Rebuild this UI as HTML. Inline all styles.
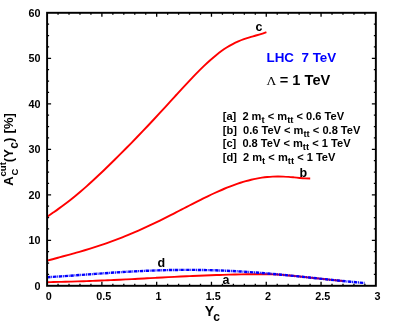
<!DOCTYPE html>
<html><head><meta charset="utf-8">
<style>
html,body{margin:0;padding:0;background:#fff;}
body{width:396px;height:332px;overflow:hidden;}
svg{display:block;will-change:transform;}
text{font-family:"Liberation Sans",sans-serif;font-weight:bold;fill:#000;}
.tk text{font-size:10.8px;}
.cl text{font-size:12.5px;}
.lg text{font-size:11.08px;}
.sub{font-size:9.5px;}
</style></head>
<body>
<svg width="396" height="332" viewBox="0 0 396 332">
<rect x="0" y="0" width="396" height="332" fill="#fff"/>
<!-- curves -->
<path d="M47.20 216.72 C48.14 216.07 50.95 214.14 52.82 212.83 C54.69 211.52 56.57 210.21 58.44 208.87 C60.31 207.52 62.19 206.16 64.06 204.76 C65.94 203.36 67.81 201.93 69.68 200.46 C71.56 198.99 73.43 197.49 75.30 195.95 C77.18 194.41 79.05 192.84 80.92 191.24 C82.80 189.63 84.67 188.00 86.54 186.34 C88.42 184.67 90.29 182.98 92.16 181.27 C94.04 179.55 95.91 177.81 97.78 176.06 C99.66 174.30 101.53 172.52 103.41 170.72 C105.28 168.93 107.15 167.12 109.03 165.29 C110.90 163.47 112.77 161.63 114.65 159.78 C116.52 157.92 118.39 156.06 120.27 154.19 C122.14 152.31 124.01 150.42 125.89 148.53 C127.76 146.63 129.63 144.72 131.51 142.81 C133.38 140.89 135.25 138.96 137.13 137.02 C139.00 135.07 140.88 133.12 142.75 131.16 C144.62 129.19 146.50 127.22 148.37 125.23 C150.24 123.24 152.12 121.24 153.99 119.23 C155.86 117.22 157.74 115.20 159.61 113.17 C161.48 111.14 163.36 109.10 165.23 107.05 C167.10 105.01 168.98 102.95 170.85 100.90 C172.72 98.85 174.60 96.79 176.47 94.74 C178.35 92.69 180.22 90.63 182.09 88.60 C183.97 86.56 185.84 84.53 187.71 82.53 C189.59 80.53 191.46 78.54 193.33 76.59 C195.21 74.64 197.08 72.71 198.95 70.84 C200.83 68.96 202.70 67.12 204.57 65.34 C206.45 63.57 208.32 61.83 210.19 60.18 C212.07 58.52 213.94 56.92 215.82 55.41 C217.69 53.90 219.56 52.45 221.44 51.10 C223.31 49.75 225.18 48.49 227.06 47.31 C228.93 46.14 230.80 45.06 232.68 44.06 C234.55 43.07 236.42 42.18 238.30 41.36 C240.17 40.54 242.04 39.82 243.92 39.14 C245.79 38.47 247.66 37.90 249.54 37.33 C251.41 36.77 253.29 36.28 255.16 35.75 C257.03 35.22 258.91 34.74 260.78 34.14 C262.65 33.54 265.46 32.48 266.40 32.15" fill="none" stroke="#ff0000" stroke-width="1.9"/>
<path d="M47.20 260.71 C48.09 260.46 50.78 259.70 52.57 259.21 C54.36 258.71 56.15 258.22 57.93 257.74 C59.72 257.25 61.51 256.76 63.30 256.27 C65.09 255.79 66.88 255.30 68.67 254.81 C70.46 254.32 72.25 253.82 74.04 253.32 C75.83 252.82 77.61 252.32 79.40 251.81 C81.19 251.29 82.98 250.77 84.77 250.24 C86.56 249.72 88.35 249.18 90.14 248.63 C91.93 248.08 93.72 247.52 95.51 246.95 C97.30 246.38 99.08 245.80 100.87 245.20 C102.66 244.60 104.45 244.00 106.24 243.37 C108.03 242.75 109.82 242.12 111.61 241.47 C113.40 240.82 115.19 240.15 116.98 239.47 C118.76 238.79 120.55 238.10 122.34 237.39 C124.13 236.69 125.92 235.96 127.71 235.23 C129.50 234.49 131.29 233.74 133.08 232.98 C134.87 232.21 136.66 231.43 138.44 230.64 C140.23 229.85 142.02 229.04 143.81 228.22 C145.60 227.41 147.39 226.58 149.18 225.73 C150.97 224.89 152.76 224.04 154.55 223.17 C156.34 222.31 158.13 221.43 159.91 220.55 C161.70 219.67 163.49 218.77 165.28 217.87 C167.07 216.97 168.86 216.07 170.65 215.16 C172.44 214.24 174.23 213.33 176.02 212.41 C177.81 211.49 179.59 210.56 181.38 209.64 C183.17 208.71 184.96 207.79 186.75 206.86 C188.54 205.94 190.33 205.02 192.12 204.10 C193.91 203.18 195.70 202.27 197.49 201.36 C199.27 200.46 201.06 199.56 202.85 198.67 C204.64 197.79 206.43 196.91 208.22 196.05 C210.01 195.18 211.80 194.33 213.59 193.50 C215.38 192.67 217.17 191.86 218.96 191.06 C220.74 190.27 222.53 189.50 224.32 188.75 C226.11 188.00 227.90 187.28 229.69 186.58 C231.48 185.89 233.27 185.22 235.06 184.58 C236.85 183.94 238.64 183.33 240.42 182.76 C242.21 182.19 244.00 181.65 245.79 181.15 C247.58 180.65 249.37 180.18 251.16 179.76 C252.95 179.33 254.74 178.94 256.53 178.60 C258.32 178.25 260.10 177.95 261.89 177.68 C263.68 177.42 265.47 177.20 267.26 177.02 C269.05 176.85 270.84 176.71 272.63 176.62 C274.42 176.53 276.21 176.49 278.00 176.48 C279.79 176.48 281.57 176.52 283.36 176.59 C285.15 176.66 286.94 176.78 288.73 176.92 C290.52 177.05 292.31 177.23 294.10 177.40 C295.89 177.57 297.68 177.77 299.47 177.94 C301.25 178.11 303.04 178.29 304.83 178.40 C306.62 178.50 309.31 178.55 310.20 178.57" fill="none" stroke="#ff0000" stroke-width="1.9"/>
<path d="M47.20 282.20 C48.21 282.18 51.24 282.11 53.26 282.06 C55.28 282.01 57.30 281.97 59.31 281.92 C61.33 281.87 63.35 281.82 65.37 281.77 C67.39 281.72 69.41 281.66 71.43 281.60 C73.45 281.55 75.47 281.49 77.49 281.42 C79.50 281.36 81.52 281.29 83.54 281.23 C85.56 281.16 87.58 281.08 89.60 281.01 C91.62 280.93 93.64 280.86 95.66 280.78 C97.68 280.70 99.70 280.61 101.71 280.53 C103.73 280.44 105.75 280.36 107.77 280.27 C109.79 280.18 111.81 280.08 113.83 279.99 C115.85 279.90 117.87 279.80 119.89 279.70 C121.90 279.61 123.92 279.51 125.94 279.40 C127.96 279.30 129.98 279.20 132.00 279.10 C134.02 278.99 136.04 278.89 138.06 278.78 C140.08 278.68 142.10 278.57 144.11 278.46 C146.13 278.35 148.15 278.24 150.17 278.13 C152.19 278.03 154.21 277.92 156.23 277.81 C158.25 277.70 160.27 277.59 162.29 277.48 C164.30 277.37 166.32 277.26 168.34 277.15 C170.36 277.04 172.38 276.93 174.40 276.83 C176.42 276.72 178.44 276.62 180.46 276.52 C182.48 276.42 184.50 276.32 186.51 276.23 C188.53 276.14 190.55 276.05 192.57 275.96 C194.59 275.87 196.61 275.79 198.63 275.71 C200.65 275.63 202.67 275.55 204.69 275.48 C206.70 275.40 208.72 275.33 210.74 275.25 C212.76 275.18 214.78 275.11 216.80 275.04 C218.82 274.97 220.84 274.90 222.86 274.83 C224.88 274.76 226.90 274.70 228.91 274.64 C230.93 274.58 232.95 274.52 234.97 274.47 C236.99 274.42 239.01 274.37 241.03 274.33 C243.05 274.29 245.07 274.25 247.09 274.23 C249.10 274.21 251.12 274.19 253.14 274.19 C255.16 274.20 257.18 274.22 259.20 274.24 C261.22 274.26 263.24 274.29 265.26 274.30 C267.28 274.31 269.30 274.29 271.31 274.31 C273.33 274.34 275.35 274.35 277.37 274.43 C279.39 274.52 281.41 274.67 283.43 274.85 C285.45 275.02 287.47 275.27 289.49 275.48 C291.50 275.69 293.52 275.90 295.54 276.10 C297.56 276.31 299.58 276.50 301.60 276.71 C303.62 276.92 305.64 277.13 307.66 277.34 C309.68 277.56 311.70 277.77 313.71 277.98 C315.73 278.20 317.75 278.41 319.77 278.63 C321.79 278.84 323.81 279.05 325.83 279.27 C327.85 279.48 329.87 279.69 331.89 279.90 C333.90 280.11 335.92 280.31 337.94 280.52 C339.96 280.72 342.99 281.03 344.00 281.13" fill="none" stroke="#ff0000" stroke-width="1.9"/>
<path d="M47.20 277.21 C49.50 277.06 56.40 276.65 61.00 276.35 C65.59 276.05 70.19 275.72 74.79 275.39 C79.39 275.06 83.99 274.71 88.59 274.38 C93.19 274.05 97.78 273.71 102.38 273.38 C106.98 273.06 111.58 272.74 116.18 272.44 C120.78 272.15 125.38 271.86 129.97 271.61 C134.57 271.35 139.17 271.11 143.77 270.90 C148.37 270.70 152.97 270.52 157.57 270.37 C162.16 270.22 166.76 270.10 171.36 270.02 C175.96 269.94 180.56 269.89 185.16 269.88 C189.76 269.87 194.35 269.89 198.95 269.95 C203.55 270.01 208.15 270.11 212.75 270.25 C217.35 270.38 221.94 270.55 226.54 270.76 C231.14 270.96 235.74 271.21 240.34 271.48 C244.94 271.75 249.54 272.06 254.13 272.40 C258.73 272.73 263.33 273.10 267.93 273.49 C272.53 273.88 277.13 274.30 281.73 274.73 C286.32 275.16 290.92 275.62 295.52 276.09 C300.12 276.55 304.72 277.04 309.32 277.52 C313.92 278.00 318.51 278.50 323.11 278.98 C327.71 279.46 332.31 279.95 336.91 280.42 C341.51 280.88 346.11 281.35 350.70 281.78 C355.30 282.20 362.20 282.79 364.50 282.99" fill="none" stroke="#0000ff" stroke-width="2.4" stroke-dasharray="3.4 0.75 0.9 0.75"/>
<!-- frame -->
<rect x="47.1" y="12.8" width="328.75" height="273.0" fill="none" stroke="#000" stroke-width="1.95"/>
<path d="M58.06 285.80 v-2.00 M58.06 12.80 v2.00 M69.02 285.80 v-2.00 M69.02 12.80 v2.00 M79.97 285.80 v-2.00 M79.97 12.80 v2.00 M90.93 285.80 v-2.00 M90.93 12.80 v2.00 M101.89 285.80 v-4.00 M101.89 12.80 v4.00 M112.85 285.80 v-2.00 M112.85 12.80 v2.00 M123.81 285.80 v-2.00 M123.81 12.80 v2.00 M134.77 285.80 v-2.00 M134.77 12.80 v2.00 M145.72 285.80 v-2.00 M145.72 12.80 v2.00 M156.68 285.80 v-4.00 M156.68 12.80 v4.00 M167.64 285.80 v-2.00 M167.64 12.80 v2.00 M178.60 285.80 v-2.00 M178.60 12.80 v2.00 M189.56 285.80 v-2.00 M189.56 12.80 v2.00 M200.52 285.80 v-2.00 M200.52 12.80 v2.00 M211.47 285.80 v-4.00 M211.47 12.80 v4.00 M222.43 285.80 v-2.00 M222.43 12.80 v2.00 M233.39 285.80 v-2.00 M233.39 12.80 v2.00 M244.35 285.80 v-2.00 M244.35 12.80 v2.00 M255.31 285.80 v-2.00 M255.31 12.80 v2.00 M266.27 285.80 v-4.00 M266.27 12.80 v4.00 M277.23 285.80 v-2.00 M277.23 12.80 v2.00 M288.18 285.80 v-2.00 M288.18 12.80 v2.00 M299.14 285.80 v-2.00 M299.14 12.80 v2.00 M310.10 285.80 v-2.00 M310.10 12.80 v2.00 M321.06 285.80 v-4.00 M321.06 12.80 v4.00 M332.02 285.80 v-2.00 M332.02 12.80 v2.00 M342.98 285.80 v-2.00 M342.98 12.80 v2.00 M353.93 285.80 v-2.00 M353.93 12.80 v2.00 M364.89 285.80 v-2.00 M364.89 12.80 v2.00 M47.10 274.43 h2.00 M375.85 274.43 h-2.00 M47.10 263.05 h2.00 M375.85 263.05 h-2.00 M47.10 251.68 h2.00 M375.85 251.68 h-2.00 M47.10 240.30 h4.00 M375.85 240.30 h-4.00 M47.10 228.93 h2.00 M375.85 228.93 h-2.00 M47.10 217.55 h2.00 M375.85 217.55 h-2.00 M47.10 206.18 h2.00 M375.85 206.18 h-2.00 M47.10 194.80 h4.00 M375.85 194.80 h-4.00 M47.10 183.43 h2.00 M375.85 183.43 h-2.00 M47.10 172.05 h2.00 M375.85 172.05 h-2.00 M47.10 160.68 h2.00 M375.85 160.68 h-2.00 M47.10 149.30 h4.00 M375.85 149.30 h-4.00 M47.10 137.93 h2.00 M375.85 137.93 h-2.00 M47.10 126.55 h2.00 M375.85 126.55 h-2.00 M47.10 115.18 h2.00 M375.85 115.18 h-2.00 M47.10 103.80 h4.00 M375.85 103.80 h-4.00 M47.10 92.43 h2.00 M375.85 92.43 h-2.00 M47.10 81.05 h2.00 M375.85 81.05 h-2.00 M47.10 69.68 h2.00 M375.85 69.68 h-2.00 M47.10 58.30 h4.00 M375.85 58.30 h-4.00 M47.10 46.93 h2.00 M375.85 46.93 h-2.00 M47.10 35.55 h2.00 M375.85 35.55 h-2.00 M47.10 24.18 h2.00 M375.85 24.18 h-2.00" stroke="#000" stroke-width="1.3" fill="none"/>
<g class="tk">
<text x="48.85" y="300.25" text-anchor="middle">0</text>
<text x="103.64" y="300.25" text-anchor="middle">0.5</text>
<text x="158.43" y="300.25" text-anchor="middle">1</text>
<text x="213.22" y="300.25" text-anchor="middle">1.5</text>
<text x="268.02" y="300.25" text-anchor="middle">2</text>
<text x="322.81" y="300.25" text-anchor="middle">2.5</text>
<text x="377.60" y="300.25" text-anchor="middle">3</text>
<text x="40.5" y="289.65" text-anchor="end">0</text>
<text x="40.5" y="244.15" text-anchor="end">10</text>
<text x="40.5" y="198.65" text-anchor="end">20</text>
<text x="40.5" y="153.15" text-anchor="end">30</text>
<text x="40.5" y="107.65" text-anchor="end">40</text>
<text x="40.5" y="62.15" text-anchor="end">50</text>
<text x="40.5" y="16.65" text-anchor="end">60</text>
</g>
<!-- curve labels -->
<g class="cl">
<text x="255.5" y="31">c</text>
<text x="299.5" y="176.8">b</text>
<text x="222.6" y="283.6">a</text>
<text x="157.6" y="267.4">d</text>
</g>
<!-- titles -->
<text x="266.5" y="62.4" font-size="13.4" style="fill:#0000ff;white-space:pre" xml:space="preserve">LHC  7 TeV</text>
<text x="266.5" y="85.4" font-size="13.5" font-family="Liberation Serif" style="font-family:'Liberation Serif',serif;font-weight:normal">Λ</text>
<text x="279.8" y="85.4" font-size="14.6" xml:space="preserve">= 1 TeV</text>
<g class="lg">
<text x="222.7" y="120" xml:space="preserve">[a]  2 m<tspan class="sub" dy="3">t</tspan><tspan dy="-3"> &lt; m</tspan><tspan class="sub" dy="3">tt</tspan><tspan dy="-3"> &lt; 0.6 TeV</tspan></text>
<text x="222.7" y="133.5" xml:space="preserve">[b]  0.6 TeV &lt; m<tspan class="sub" dy="3">tt</tspan><tspan dy="-3"> &lt; 0.8 TeV</tspan></text>
<text x="222.7" y="147" xml:space="preserve">[c]  0.8 TeV &lt; m<tspan class="sub" dy="3">tt</tspan><tspan dy="-3"> &lt; 1 TeV</tspan></text>
<text x="222.7" y="160.5" xml:space="preserve">[d]  2 m<tspan class="sub" dy="3">t</tspan><tspan dy="-3"> &lt; m</tspan><tspan class="sub" dy="3">tt</tspan><tspan dy="-3"> &lt; 1 TeV</tspan></text>
</g>
<!-- axis titles -->
<text x="204.8" y="316.2" font-size="14">Y<tspan font-size="12" dy="4.3" dx="-0.8">c</tspan></text>
<g transform="translate(13.3,185.8) rotate(-90)">
<text x="0" y="0" font-size="13">A<tspan font-size="9.5" dy="-7.3">cut</tspan><tspan font-size="13" dy="7.3">(Y</tspan><tspan font-size="12" dy="4.7" dx="0.5">c</tspan><tspan font-size="13" dy="-4.7">) </tspan><tspan dx="0.6">[%]</tspan></text>
<text x="10.3" y="4.7" font-size="9.5">C</text>
</g>
</svg>
</body></html>
